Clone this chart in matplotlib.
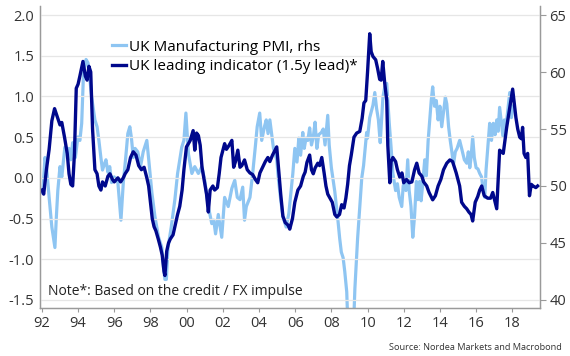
import matplotlib

matplotlib.use("Agg")

import matplotlib.pyplot as plt
from matplotlib.ticker import FixedLocator, FuncFormatter

plt.rcParams["font.family"] = ["Open Sans", "DejaVu Sans"]
plt.rcParams["axes.unicode_minus"] = False

# UK leading indicator (1.5y lead), left axis
lead_dates = [
    1992.0, 1992.1, 1992.25, 1992.4, 1992.55, 1992.7, 1992.85, 1993.0, 1993.1, 1993.25,
    1993.4, 1993.5, 1993.6, 1993.7, 1993.8, 1993.9, 1994.0, 1994.1, 1994.27, 1994.4,
    1994.5, 1994.6, 1994.7, 1994.8, 1994.93, 1995.05, 1995.15, 1995.26, 1995.35, 1995.5,
    1995.65, 1995.76, 1995.9, 1996.0, 1996.2, 1996.35, 1996.5, 1996.6, 1996.75, 1996.9,
    1997.05, 1997.2, 1997.35, 1997.5, 1997.65, 1997.8, 1997.9, 1998.0, 1998.1, 1998.2,
    1998.3, 1998.43, 1998.55, 1998.65, 1998.75, 1998.8, 1998.9, 1999.0, 1999.1, 1999.25,
    1999.35, 1999.5, 1999.62, 1999.75, 1999.85, 1999.99, 2000.1, 2000.2, 2000.36, 2000.45,
    2000.55, 2000.65, 2000.75, 2000.85, 2000.95, 2001.1, 2001.2, 2001.3, 2001.45, 2001.55,
    2001.7, 2001.8, 2001.9, 2002.1, 2002.2, 2002.35, 2002.5, 2002.6, 2002.7, 2002.83,
    2002.95, 2003.05, 2003.2, 2003.35, 2003.5, 2003.65, 2003.8, 2003.93, 2004.05, 2004.2,
    2004.35, 2004.49, 2004.6, 2004.75, 2004.98, 2005.1, 2005.2, 2005.32, 2005.45, 2005.6,
    2005.7, 2005.85, 2005.98, 2006.15, 2006.3, 2006.45, 2006.55, 2006.65, 2006.8, 2006.9,
    2007.0, 2007.1, 2007.25, 2007.35, 2007.47, 2007.6, 2007.7, 2007.8, 2007.95, 2008.05,
    2008.19, 2008.3, 2008.45, 2008.57, 2008.7, 2008.8, 2008.9, 2009.0, 2009.1, 2009.25,
    2009.4, 2009.57, 2009.7, 2009.8, 2009.9, 2010.0, 2010.12, 2010.2, 2010.3, 2010.45,
    2010.55, 2010.67, 2010.75, 2010.84, 2010.95, 2011.06, 2011.12, 2011.23, 2011.3, 2011.4,
    2011.55, 2011.65, 2011.78, 2011.9, 2012.0, 2012.15, 2012.3, 2012.45, 2012.6, 2012.72,
    2012.85, 2013.0, 2013.1, 2013.27, 2013.4, 2013.6, 2013.75, 2013.9, 2014.05, 2014.2,
    2014.38, 2014.55, 2014.7, 2014.9, 2015.09, 2015.2, 2015.35, 2015.48, 2015.6, 2015.72,
    2015.81, 2015.95, 2016.09, 2016.2, 2016.31, 2016.45, 2016.64, 2016.8, 2016.92, 2017.05,
    2017.14, 2017.25, 2017.3, 2017.5, 2017.69, 2017.86, 2018.02, 2018.2, 2018.3, 2018.41,
    2018.5, 2018.57, 2018.65, 2018.75, 2018.85, 2018.95, 2019.05, 2019.15, 2019.3, 2019.4,
]
lead_values = [
    -0.15, -0.2, 0.1, 0.35, 0.7, 0.85, 0.75, 0.65, 0.68, 0.5,
    0.3, 0.05, -0.08, -0.1, 0.3, 1.1, 1.15, 1.25, 1.43, 1.25,
    1.2, 1.37, 1.3, 0.6, 0.1, 0.05, -0.1, -0.15, -0.05, -0.1,
    0.02, 0.05, -0.02, -0.05, 0.0, -0.05, 0.0, 0.05, 0.1, 0.25,
    0.32, 0.28, 0.15, 0.1, 0.13, 0.0, -0.1, -0.3, -0.5, -0.6,
    -0.65, -0.75, -0.85, -0.95, -1.15, -1.2, -0.9, -0.8, -0.75, -0.7,
    -0.6, -0.45, -0.35, -0.15, 0.1, 0.38, 0.42, 0.46, 0.58, 0.34,
    0.55, 0.52, 0.4, 0.13, 0.0, -0.2, -0.42, -0.15, -0.1, -0.15,
    -0.12, 0.05, 0.25, 0.42, 0.35, 0.4, 0.46, 0.13, 0.2, 0.34,
    0.13, 0.15, 0.22, 0.1, 0.06, 0.04, -0.02, -0.06, 0.06, 0.13,
    0.2, 0.25, 0.2, 0.28, 0.38, 0.06, -0.2, -0.47, -0.55, -0.58,
    -0.63, -0.5, -0.3, -0.15, -0.1, 0.02, 0.07, 0.19, 0.28, 0.1,
    0.05, 0.12, 0.18, 0.15, 0.25, 0.06, -0.1, -0.2, -0.26, -0.3,
    -0.45, -0.48, -0.45, -0.33, -0.37, -0.25, -0.08, 0.15, 0.28, 0.5,
    0.55, 0.57, 0.73, 0.92, 0.95, 1.3, 1.77, 1.55, 1.49, 1.45,
    1.35, 1.21, 1.2, 1.43, 1.16, 0.95, 0.4, -0.06, 0.2, 0.25,
    0.2, 0.1, 0.01, 0.06, -0.06, -0.02, -0.06, -0.05, 0.1, 0.18,
    0.06, 0.02, -0.05, -0.1, -0.18, -0.27, -0.22, -0.1, -0.02, 0.1,
    0.18, 0.22, 0.2, 0.06, -0.1, -0.3, -0.35, -0.38, -0.42, -0.45,
    -0.53, -0.3, -0.23, -0.15, -0.1, -0.22, -0.25, -0.25, -0.18, -0.3,
    -0.38, 0.1, 0.34, 0.3, 0.62, 0.86, 1.09, 0.74, 0.6, 0.5,
    0.48, 0.62, 0.3, 0.25, 0.3, -0.22, -0.08, -0.1, -0.12, -0.1,
]

# UK Manufacturing PMI, right axis
pmi_dates = [
    1992.05, 1992.17, 1992.25, 1992.4, 1992.55, 1992.72, 1992.8, 1992.88, 1993.0, 1993.1,
    1993.27, 1993.4, 1993.5, 1993.6, 1993.7, 1993.85, 1993.99, 1994.1, 1994.2, 1994.3,
    1994.44, 1994.55, 1994.65, 1994.75, 1994.93, 1995.05, 1995.15, 1995.26, 1995.35, 1995.45,
    1995.54, 1995.65, 1995.75, 1995.85, 1996.0, 1996.2, 1996.37, 1996.5, 1996.64, 1996.75,
    1996.86, 1996.95, 1997.05, 1997.15, 1997.3, 1997.45, 1997.6, 1997.8, 1997.9, 1998.08,
    1998.25, 1998.45, 1998.63, 1998.72, 1998.8, 1998.88, 1998.97, 1999.15, 1999.35, 1999.5,
    1999.73, 1999.85, 1999.96, 2000.1, 2000.29, 2000.45, 2000.65, 2000.84, 2001.0, 2001.2,
    2001.39, 2001.5, 2001.6, 2001.75, 2001.94, 2002.1, 2002.3, 2002.5, 2002.66, 2002.8,
    2002.95, 2003.1, 2003.2, 2003.3, 2003.5, 2003.65, 2003.8, 2003.9, 2004.04, 2004.15,
    2004.3, 2004.4, 2004.5, 2004.6, 2004.8, 2004.98, 2005.08, 2005.2, 2005.32, 2005.5,
    2005.65, 2005.87, 2005.98, 2006.1, 2006.2, 2006.3, 2006.42, 2006.5, 2006.6, 2006.7,
    2006.8, 2006.9, 2007.0, 2007.1, 2007.2, 2007.3, 2007.45, 2007.55, 2007.65, 2007.8,
    2007.88, 2008.0, 2008.19, 2008.35, 2008.46, 2008.55, 2008.65, 2008.74, 2008.85, 2008.95,
    2009.05, 2009.2, 2009.3, 2009.45, 2009.55, 2009.68, 2009.78, 2009.85, 2009.95, 2010.0,
    2010.12, 2010.3, 2010.4, 2010.5, 2010.6, 2010.7, 2010.85, 2010.95, 2011.06, 2011.12,
    2011.2, 2011.3, 2011.4, 2011.55, 2011.65, 2011.75, 2011.89, 2011.97, 2012.05, 2012.12,
    2012.22, 2012.3, 2012.4, 2012.5, 2012.6, 2012.7, 2012.78, 2012.88, 2012.96, 2013.05,
    2013.16, 2013.25, 2013.35, 2013.44, 2013.52, 2013.6, 2013.7, 2013.8, 2013.9, 2014.0,
    2014.1, 2014.2, 2014.3, 2014.38, 2014.48, 2014.57, 2014.66, 2014.75, 2014.85, 2014.95,
    2015.09, 2015.2, 2015.35, 2015.48, 2015.57, 2015.65, 2015.72, 2015.81, 2015.9, 2016.0,
    2016.1, 2016.2, 2016.3, 2016.37, 2016.48, 2016.55, 2016.65, 2016.75, 2016.85, 2016.95,
    2017.05, 2017.14, 2017.22, 2017.3, 2017.4, 2017.48, 2017.56, 2017.65, 2017.75, 2017.86,
    2017.95, 2018.05,
]
pmi_values = [
    49.4, 52.5, 51.8, 49.0, 46.4, 44.6, 47.3, 49.6, 51.7, 50.8,
    53.4, 53.0, 53.3, 52.3, 53.8, 52.5, 54.3, 54.0, 55.5, 59.9,
    61.1, 60.8, 59.4, 57.8, 55.8, 55.2, 54.0, 52.5, 51.4, 51.9,
    52.3, 51.2, 51.7, 50.3, 50.8, 50.3, 47.0, 50.3, 52.6, 54.6,
    55.2, 54.2, 52.5, 53.3, 53.0, 51.7, 53.0, 54.0, 52.4, 49.4,
    47.3, 45.5, 44.6, 42.9, 41.8, 41.8, 44.6, 46.4, 48.8, 51.1,
    53.4, 54.0, 56.4, 52.8, 51.1, 51.7, 51.1, 51.7, 50.5, 48.2,
    46.7, 47.0, 45.8, 47.5, 45.5, 49.0, 48.2, 49.8, 50.5, 49.0,
    48.8, 49.9, 47.0, 48.2, 49.0, 51.1, 53.5, 55.2, 56.4, 54.0,
    55.2, 55.8, 54.6, 55.8, 53.3, 52.3, 50.5, 48.8, 47.3, 46.4,
    47.6, 51.1, 53.3, 52.1, 54.2, 52.7, 54.7, 53.3, 54.2, 54.0,
    55.1, 53.6, 54.3, 55.6, 53.3, 54.5, 54.7, 55.0, 53.6, 56.2,
    53.6, 51.6, 49.5, 47.2, 45.4, 44.2, 43.7, 42.5, 40.7, 36.0,
    34.8, 36.5, 41.0, 45.4, 47.7, 50.7, 51.8, 53.0, 54.7, 54.2,
    56.0, 57.1, 58.2, 56.8, 55.8, 53.8, 57.8, 58.7, 59.0, 57.5,
    55.5, 53.4, 51.1, 49.6, 50.2, 49.0, 48.2, 50.0, 50.4, 49.6,
    52.3, 49.6, 48.2, 45.5, 47.4, 50.4, 48.8, 50.4, 48.7, 50.2,
    52.3, 50.9, 54.0, 55.8, 57.5, 58.7, 57.0, 57.5, 55.8, 57.0,
    55.2, 56.5, 57.8, 57.2, 55.2, 54.0, 53.0, 51.9, 53.0, 53.3,
    54.0, 53.3, 52.3, 52.0, 53.0, 51.6, 52.5, 54.3, 52.5, 51.6,
    51.5, 51.1, 50.8, 49.9, 49.0, 51.4, 53.4, 55.5, 54.0, 55.5,
    54.5, 55.8, 54.8, 56.9, 55.5, 54.4, 55.8, 55.2, 56.6, 58.2,
    56.0, 57.0,
]

left_ticks = [-1.5, -1.0, -0.5, 0.0, 0.5, 1.0, 1.5, 2.0]
right_ticks = [40, 45, 50, 55, 60, 65]
year_ticks = list(range(1992, 2019, 2))

LIGHT = "#8ec5f2"
DARK = "#00088c"
AXIS = "#9a9a9a"

fig = plt.figure(figsize=(5.7, 3.56), dpi=100)
ax = fig.add_axes([0.070, 0.135, 0.877, 0.848])
ax2 = ax.twinx()

l_pmi, = ax2.plot(pmi_dates, pmi_values, color=LIGHT, linewidth=2.3,
                  label="UK Manufacturing PMI, rhs")
l_lead, = ax.plot(lead_dates, lead_values, color=DARK, linewidth=2.4,
                  label="UK leading indicator (1.5y lead)*")

# leading indicator drawn above the PMI line
ax.set_zorder(ax2.get_zorder() + 1)
ax.patch.set_visible(False)

ax.set_xlim(1991.89, 2019.52)
ax.set_ylim(-1.598, 2.11)
ax2.set_ylim(39.3, 65.79)

ax.yaxis.set_major_locator(FixedLocator(left_ticks))
ax.yaxis.set_major_formatter(FuncFormatter(lambda v, _: f"{v:.1f}"))
ax2.yaxis.set_major_locator(FixedLocator(right_ticks))
ax.xaxis.set_major_locator(FixedLocator(year_ticks))
ax.xaxis.set_major_formatter(FuncFormatter(lambda v, _: f"{int(round(v)) % 100:02d}"))

ax.grid(True, axis="y", color="#e6e6e6", linewidth=0.9)
ax.set_axisbelow(True)

for a in (ax, ax2):
    a.spines["top"].set_visible(False)
    for s in ("left", "right", "bottom"):
        a.spines[s].set_color(AXIS)
        a.spines[s].set_linewidth(0.9)

ax.tick_params(axis="y", length=0, labelsize=10.5, colors="#333333", pad=4)
ax.tick_params(axis="x", length=3, color=AXIS, labelsize=10.5, labelcolor="#333333", pad=3)
ax2.tick_params(axis="y", length=4, color=AXIS, labelsize=10.5, labelcolor="#333333", pad=3)

ax.legend(handles=[l_pmi, l_lead], loc="upper left", bbox_to_anchor=(0.132, 0.909),
          frameon=False, fontsize=11, handlelength=0.9, handletextpad=0.2,
          labelspacing=0.3, borderaxespad=0)

ax.text(0.016, 0.03, "Note*: Based on the credit / FX impulse", transform=ax.transAxes,
        ha="left", va="bottom", fontsize=10, color="#222222")
fig.text(0.986, 0.012, "Source: Nordea Markets and Macrobond", ha="right", va="bottom",
         fontsize=6.6, color="#333333")

fig.savefig("out.png", dpi=100)
plt.close(fig)
